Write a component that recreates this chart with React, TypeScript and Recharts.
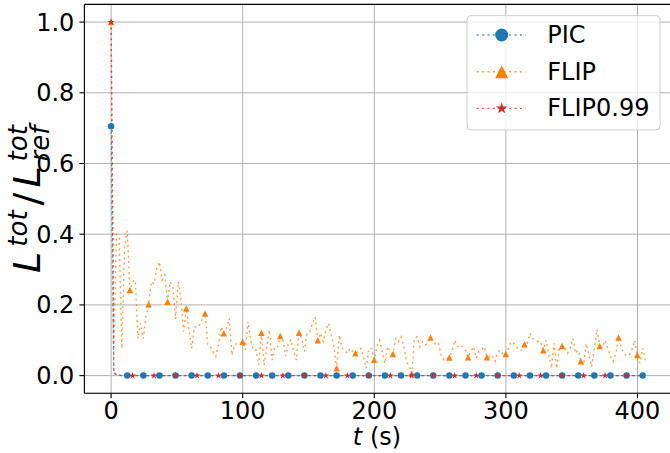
import React from 'react'
import { LineChart, Line, XAxis, YAxis, CartesianGrid, ReferenceLine } from 'recharts'

// sample spacing (s) of the stored time series
const DT = 2.04

const flipValues = [
  1.0, 0.08, 0.4, 0.39, 0.077, 0.365, 0.41, 0.242, 0.266, 0.27,
  0.105, 0.148, 0.105, 0.167, 0.202, 0.266, 0.26, 0.303, 0.322, 0.27,
  0.285, 0.209, 0.266, 0.25, 0.16, 0.266, 0.218, 0.125, 0.19, 0.129,
  0.077, 0.138, 0.136, 0.143, 0.162, 0.176, 0.087, 0.082, 0.068, 0.054,
  0.087, 0.139, 0.12, 0.134, 0.162, 0.058, 0.087, 0.091, 0.091, 0.096,
  0.073, 0.153, 0.1, 0.073, 0.073, 0.03, 0.121, 0.03, 0.082, 0.129,
  0.044, 0.082, 0.082, 0.112, 0.1, 0.055, 0.091, 0.102, 0.068, 0.044,
  0.121, 0.105, 0.068, 0.12, 0.124, 0.148, 0.166, 0.1, 0.12, 0.096,
  0.129, 0.148, 0.115, 0.082, 0.021, 0.115, 0.077, 0.072, 0.063, 0.077,
  0.068, 0.063, 0.068, 0.077, 0.054, 0.021, 0.077, 0.077, 0.045, 0.082,
  0.1, 0.068, 0.035, 0.082, 0.068, 0.061, 0.105, 0.096, 0.11, 0.087,
  0.04, 0.025, 0.006, 0.105, 0.11, 0.082, 0.096, 0.087, 0.091, 0.108,
  0.096, 0.087, 0.091, 0.054, 0.044, 0.049, 0.051, 0.068, 0.1, 0.082,
  0.087, 0.082, 0.072, 0.052, 0.068, 0.082, 0.049, 0.068, 0.072, 0.082,
  0.052, 0.054, 0.058, 0.04, 0.068, 0.072, 0.058, 0.061, 0.077, 0.096,
  0.091, 0.082, 0.072, 0.072, 0.089, 0.091, 0.12, 0.105, 0.1, 0.096,
  0.096, 0.072, 0.1, 0.06, 0.021, 0.091, 0.021, 0.082, 0.084, 0.077,
  0.063, 0.077, 0.105, 0.063, 0.072, 0.041, 0.03, 0.091, 0.058, 0.025,
  0.077, 0.131, 0.084, 0.082, 0.1, 0.077, 0.054, 0.04, 0.063, 0.108,
  0.082, 0.063, 0.056, 0.058, 0.072, 0.1, 0.058, 0.035, 0.077, 0.044,
]

const picValues = [
  0.705, 0.006, 0.003, 0, 0, 0, 0, 0, 0, 0, 0, 0, 0, 0, 0, 0, 0, 0, 0, 0,
  0, 0, 0, 0, 0, 0, 0, 0, 0, 0, 0, 0, 0, 0, 0, 0, 0, 0, 0, 0,
  0, 0, 0, 0, 0, 0, 0, 0, 0, 0, 0, 0, 0, 0, 0, 0, 0, 0, 0, 0,
  0, 0, 0, 0, 0, 0, 0, 0, 0, 0, 0, 0, 0, 0, 0, 0, 0, 0, 0, 0,
  0, 0, 0, 0, 0, 0, 0, 0, 0, 0, 0, 0, 0, 0, 0, 0, 0, 0, 0, 0,
  0, 0, 0, 0, 0, 0, 0, 0, 0, 0, 0, 0, 0, 0, 0, 0, 0, 0, 0, 0,
  0, 0, 0, 0, 0, 0, 0, 0, 0, 0, 0, 0, 0, 0, 0, 0, 0, 0, 0, 0,
  0, 0, 0, 0, 0, 0, 0, 0, 0, 0, 0, 0, 0, 0, 0, 0, 0, 0, 0, 0,
  0, 0, 0, 0, 0, 0, 0, 0, 0, 0, 0, 0, 0, 0, 0, 0, 0, 0, 0, 0,
  0, 0, 0, 0, 0, 0, 0, 0, 0, 0, 0, 0, 0, 0, 0, 0, 0, 0, 0, 0,
]

const flip99Values = [
  1.0, 0.008, 0.004, 0.002, 0, 0, 0, 0, 0, 0, 0, 0, 0, 0, 0, 0, 0, 0, 0, 0,
  0, 0, 0, 0, 0, 0, 0, 0, 0, 0, 0, 0, 0, 0, 0, 0, 0, 0, 0, 0,
  0, 0, 0, 0, 0, 0, 0, 0, 0, 0, 0, 0, 0, 0, 0, 0, 0, 0, 0, 0,
  0, 0, 0, 0, 0, 0, 0, 0, 0, 0, 0, 0, 0, 0, 0, 0, 0, 0, 0, 0,
  0, 0, 0, 0, 0, 0, 0, 0, 0, 0, 0, 0, 0, 0, 0, 0, 0, 0, 0, 0,
  0, 0, 0, 0, 0, 0, 0, 0, 0, 0, 0, 0, 0, 0, 0, 0, 0, 0, 0, 0,
  0, 0, 0, 0, 0, 0, 0, 0, 0, 0, 0, 0, 0, 0, 0, 0, 0, 0, 0, 0,
  0, 0, 0, 0, 0, 0, 0, 0, 0, 0, 0, 0, 0, 0, 0, 0, 0, 0, 0, 0,
  0, 0, 0, 0, 0, 0, 0, 0, 0, 0, 0, 0, 0, 0, 0, 0, 0, 0, 0, 0,
  0, 0, 0, 0, 0, 0, 0, 0, 0, 0, 0, 0, 0, 0, 0, 0, 0, 0, 0, 0,
]

const xTicks = [0, 100, 200, 300, 400]
const yTicks = [0, 0.2, 0.4, 0.6, 0.8, 1.0]

const series = [
  { key: 'pic', name: 'PIC', color: '#1f77b4', shape: 'circle', every: 6 },
  { key: 'flip', name: 'FLIP', color: '#ff7f0e', shape: 'triangle', every: 7 },
  { key: 'flip99', name: 'FLIP0.99', color: '#d62728', shape: 'star', every: 8 },
]

const data = flipValues.map((v, i) => ({
  t: +(i * DT).toFixed(2),
  pic: picValues[i],
  flip: v,
  flip99: flip99Values[i],
}))

const FONT = 'DejaVu Sans, sans-serif'

function starPoints(x: number, y: number, r: number) {
  const pts: string[] = []
  for (let k = 0; k < 10; k++) {
    const rr = k % 2 === 0 ? r : r * 0.382
    const a = -Math.PI / 2 + (k * Math.PI) / 5
    pts.push(`${x + rr * Math.cos(a)},${y + rr * Math.sin(a)}`)
  }
  return pts.join(' ')
}

function Marker({ shape, x, y, size, color }: any) {
  const h = size / 2
  if (shape === 'circle') return <circle cx={x} cy={y} r={h} fill={color} />
  if (shape === 'triangle')
    return <polygon points={`${x},${y - h} ${x - h},${y + h} ${x + h},${y + h}`} fill={color} />
  return <polygon points={starPoints(x, y, h * 1.1)} fill={color} />
}

const makeDot = (shape: string, color: string, every: number) => (props: any) => {
  const { cx, cy, index } = props
  if (index % every !== 0 || cx == null || cy == null) return <g key={`e-${index}`} />
  return <Marker key={`m-${index}`} shape={shape} x={cx} y={cy} size={6.5} color={color} />
}

export default function App() {
  return (
    <div style={{ position: 'absolute', left: 0, top: 0, width: 670, height: 453, overflow: 'hidden', background: '#fff' }}>
      <LineChart
        width={680}
        height={453}
        data={data}
        margin={{ top: 4.4, right: 7.9, bottom: 29.7, left: 0 }}
      >
        <CartesianGrid stroke="#b0b0b0" strokeWidth={1} />
        <XAxis
          dataKey="t"
          type="number"
          domain={[-20.3, 426.3]}
          ticks={xTicks}
          allowDataOverflow
          height={30}
          tickSize={5}
          tickMargin={4}
          stroke="#000"
          strokeWidth={1.1}
          tick={{ fill: '#000', fontSize: 24, fontFamily: FONT }}
        />
        <YAxis
          type="number"
          domain={[-0.05, 1.05]}
          ticks={yTicks}
          allowDataOverflow
          width={84.4}
          tickSize={5}
          tickMargin={5}
          stroke="#000"
          strokeWidth={1.1}
          tickFormatter={(v: number) => v.toFixed(1)}
          tick={{ fill: '#000', fontSize: 24, fontFamily: FONT }}
        />
        <ReferenceLine y={1.05} stroke="#000" strokeWidth={1.1} />
        {series.map((s) => (
          <Line
            key={s.key}
            dataKey={s.key}
            type="linear"
            stroke={s.color}
            strokeWidth={1.4}
            strokeOpacity={0.75}
            strokeDasharray="2 3.4"
            dot={makeDot(s.shape, s.color, s.every)}
            activeDot={false}
            isAnimationActive={false}
          />
        ))}
      </LineChart>

      {/* labels and legend */}
      <svg width={670} height={453} style={{ position: 'absolute', left: 0, top: 0, pointerEvents: 'none' }}>
        <text x={377} y={445} textAnchor="middle" fontSize={24} fontFamily={FONT}>
          <tspan fontStyle="italic">t</tspan> (s)
        </text>
        <text transform="translate(40,199) rotate(-90)" textAnchor="middle" fontSize={38} fontFamily={FONT}>
          <tspan fontStyle="italic">L</tspan>
          <tspan fontStyle="italic" fontSize={26} dx={5} dy={-13}>tot</tspan>
          <tspan dx={5} dy={13}>/</tspan>
          <tspan fontStyle="italic" dx={5}>L</tspan>
          <tspan fontStyle="italic" fontSize={26} dx={5} dy={-13}>tot</tspan>
          <tspan fontStyle="italic" fontSize={26} dx={-36.3} dy={22}>ref</tspan>
        </text>

        <rect x={467} y={15.7} width={193} height={114.3} rx={4} fill="#fff" fillOpacity={0.8} stroke="#cccccc" />
        {series.map((s, i) => {
          const y = 35 + i * 36.7
          return (
            <g key={s.key}>
              <line x1={476.7} x2={525.7} y1={y} y2={y} stroke={s.color} strokeWidth={1.4} strokeOpacity={0.75} strokeDasharray="2 3.4" />
              <Marker shape={s.shape} x={501.7} y={y} size={s.shape === 'star' ? 11 : 13} color={s.color} />
              <text x={547.3} y={y} dominantBaseline="central" fontSize={24} fontFamily={FONT}>
                {s.name}
              </text>
            </g>
          )
        })}
      </svg>
    </div>
  )
}
